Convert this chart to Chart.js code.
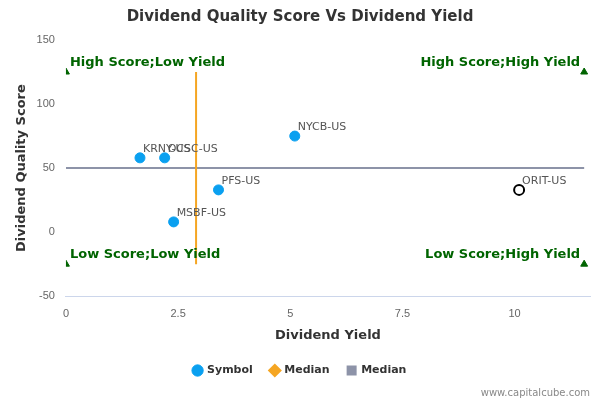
<!DOCTYPE html>
<html>
<head>
<meta charset="utf-8">
<script src="https://cdn.jsdelivr.net/npm/chart.js@4/dist/chart.umd.min.js"></script>
<style>
  body { margin: 0; background: #fff; }
</style>
</head>
<body>
<canvas id="chart" width="600" height="400" style="width:600px;height:400px"></canvas>
<script>
// ===== DATOS =====
const symbols = ["KRNY-US", "OCSC-US", "NYCB-US", "PFS-US", "MSBF-US"];
const yields = [1.65, 2.2, 5.1, 3.4, 2.4];
const scores = [58, 58, 75, 33, 8];
const focusSymbol = "ORIT-US";
const focusPoint = [10.1, 33];
const medianYield = 2.9;
const medianScore = 50;
const quadrantLabels = ["High Score;Low Yield", "High Score;High Yield", "Low Score;Low Yield", "Low Score;High Yield"];
const quadrantX = [0, 11.55, 0, 11.55];
const quadrantY = [125, 125, -25, -25];
const xTicks = [0, 2.5, 5, 7.5, 10];

const green = "#006400";

// etiquetas de puntos y cuadrantes
const labelPlugin = {
    id: "labels",
    afterDatasetsDraw(chart) {
        const ctx = chart.ctx;
        const xs = chart.scales.x, ys = chart.scales.y;
        ctx.save();
        ctx.font = "11px 'DejaVu Sans', sans-serif";
        ctx.fillStyle = "#555";
        ctx.textBaseline = "bottom";
        ctx.textAlign = "left";
        symbols.forEach((s, i) => {
            ctx.fillText(s, xs.getPixelForValue(yields[i]) + 3, ys.getPixelForValue(scores[i]) - 3);
        });
        ctx.fillText(focusSymbol, xs.getPixelForValue(focusPoint[0]) + 3, ys.getPixelForValue(focusPoint[1]) - 3);

        ctx.font = "bold 13px 'DejaVu Sans', sans-serif";
        ctx.fillStyle = green;
        quadrantLabels.forEach((t, i) => {
            const px = xs.getPixelForValue(quadrantX[i]);
            const py = ys.getPixelForValue(quadrantY[i]) - 3;
            ctx.textAlign = i % 2 === 0 ? "left" : "right";
            ctx.fillText(t, i % 2 === 0 ? px + 4 : px - 4, py);
        });

        ctx.font = "10px 'DejaVu Sans', sans-serif";
        ctx.fillStyle = "#888";
        ctx.textAlign = "right";
        ctx.textBaseline = "alphabetic";
        ctx.fillText("www.capitalcube.com", 590, 396);
        ctx.restore();
    }
};

new Chart(document.getElementById("chart"), {
    type: "scatter",
    data: {
        datasets: [
            {
                label: "Symbol",
                data: yields.map((x, i) => ({ x: x, y: scores[i] })),
                backgroundColor: "#0aa0f0",
                borderColor: "#0aa0f0",
                pointRadius: 5,
                pointStyle: "circle",
                order: 1
            },
            {
                label: "focus",
                data: [{ x: focusPoint[0], y: focusPoint[1] }],
                backgroundColor: "#fff",
                borderColor: "#000",
                borderWidth: 2,
                pointRadius: 5,
                order: 1
            },
            {
                label: "Median",
                type: "line",
                data: [{ x: medianYield, y: -25 }, { x: medianYield, y: 125 }],
                borderColor: "#f5a623",
                backgroundColor: "#f5a623",
                borderWidth: 2,
                pointRadius: 0,
                pointStyle: "rectRot",
                order: 2
            },
            {
                label: "Median",
                type: "line",
                data: [{ x: 0, y: medianScore }, { x: 11.55, y: medianScore }],
                borderColor: "#8d93a8",
                backgroundColor: "#8d93a8",
                borderWidth: 2,
                pointRadius: 0,
                pointStyle: "rect",
                order: 2
            },
            {
                label: "quadrants",
                data: quadrantX.map((x, i) => ({ x: x, y: quadrantY[i] })),
                backgroundColor: green,
                borderColor: green,
                pointStyle: "triangle",
                pointRadius: 4,
                order: 0
            }
        ]
    },
    plugins: [labelPlugin],
    options: {
        responsive: false,
        animation: false,
        layout: { padding: { left: 10, right: 10, top: 0, bottom: 14 } },
        plugins: {
            title: {
                display: true,
                text: "Dividend Quality Score Vs Dividend Yield",
                color: "#333",
                font: { size: 15, weight: "bold", family: "'DejaVu Sans', sans-serif" },
                padding: { top: 8, bottom: 14 }
            },
            legend: {
                position: "bottom",
                labels: {
                    usePointStyle: true,
                    boxWidth: 8,
                    boxHeight: 8,
                    color: "#333",
                    font: { size: 11, weight: "bold", family: "'DejaVu Sans', sans-serif" },
                    padding: 18,
                    filter: item => item.text === "Symbol" || item.text === "Median",
                    generateLabels(chart) {
                        const items = Chart.defaults.plugins.legend.labels.generateLabels(chart);
                        items.forEach(it => {
                            const ds = chart.data.datasets[it.datasetIndex];
                            it.fillStyle = ds.backgroundColor;
                            it.strokeStyle = ds.borderColor;
                            it.pointStyle = ds.pointStyle;
                        });
                        return items;
                    }
                }
            },
            tooltip: { enabled: false }
        },
        scales: {
            x: {
                type: "linear",
                min: 0,
                max: 11.68,
                afterBuildTicks: axis => { axis.ticks = xTicks.map(v => ({ value: v })); },
                grid: { display: false },
                border: { color: "#ccd6eb" },
                ticks: { color: "#666", font: { size: 11 } },
                title: {
                    display: true,
                    text: "Dividend Yield",
                    color: "#333",
                    font: { size: 13, weight: "bold", family: "'DejaVu Sans', sans-serif" }
                }
            },
            y: {
                min: -50,
                max: 150,
                ticks: { stepSize: 50, color: "#666", font: { size: 11 } },
                grid: { display: false },
                border: { display: false },
                title: {
                    display: true,
                    text: "Dividend Quality Score",
                    color: "#333",
                    font: { size: 13, weight: "bold", family: "'DejaVu Sans', sans-serif" }
                }
            }
        }
    }
});
</script>
</body>
</html>
